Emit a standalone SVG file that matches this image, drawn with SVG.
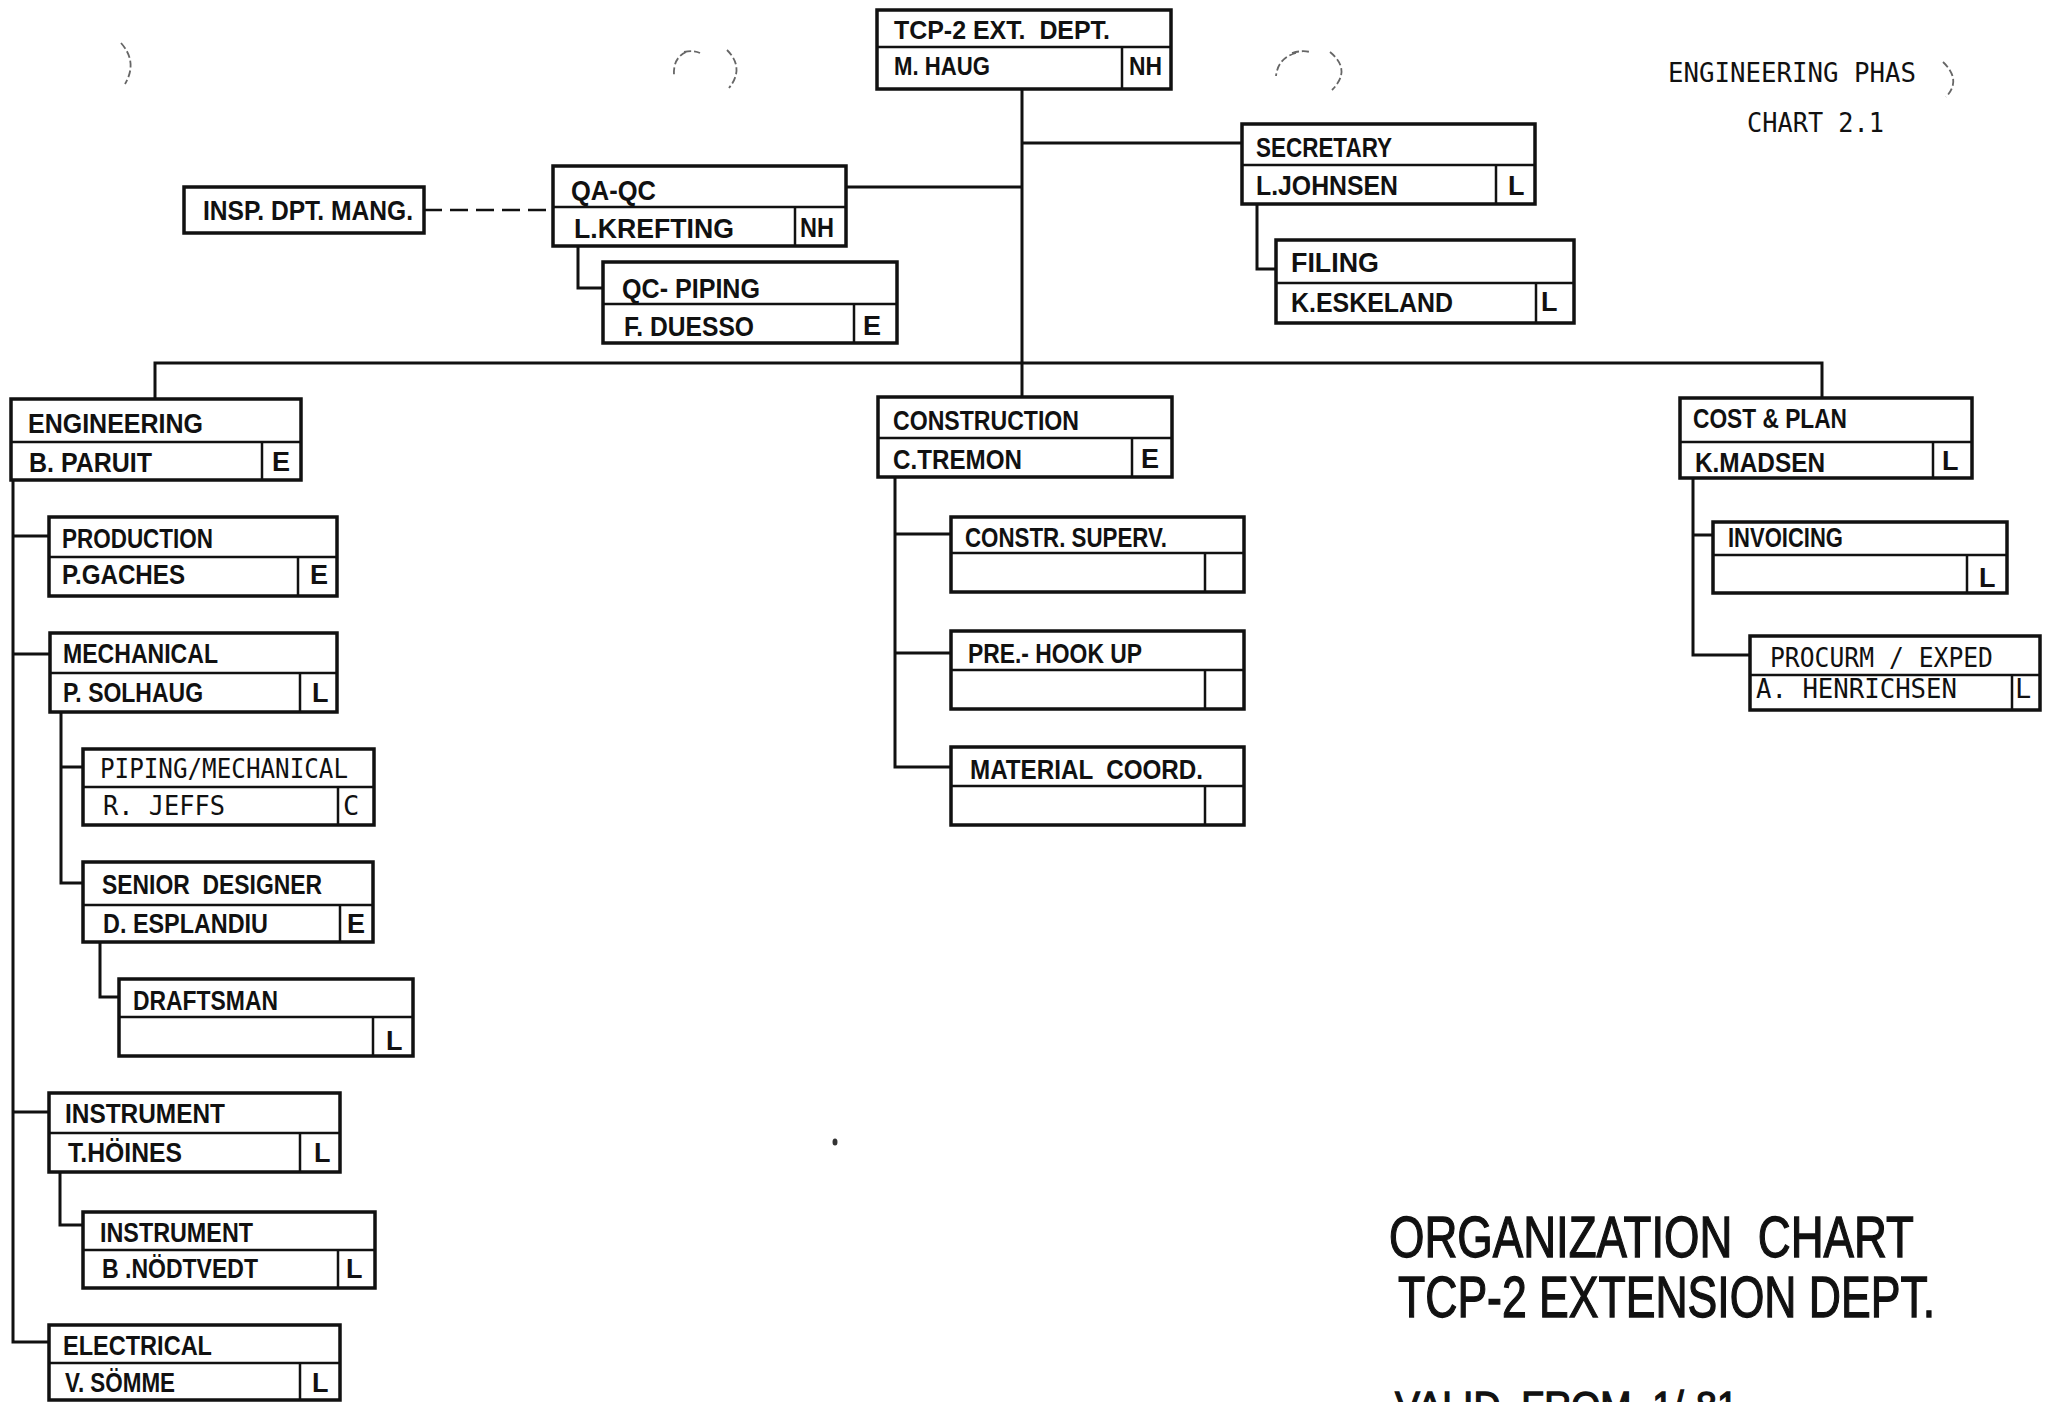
<svg xmlns="http://www.w3.org/2000/svg" width="2052" height="1402" viewBox="0 0 2052 1402">
<style>
.box{fill:#fff;stroke:#111;stroke-width:3.5}
.dv{fill:none;stroke:#111;stroke-width:2.5}
.ln{fill:none;stroke:#111;stroke-width:3}
.dash{fill:none;stroke:#111;stroke-width:2.5;stroke-dasharray:18 8}
.t{font-family:"Liberation Sans",Arial,sans-serif;font-weight:bold;font-size:27px;fill:#111;white-space:pre}
.s{font-size:25px}
.m{font-family:"DejaVu Sans Mono","Liberation Mono",monospace;font-size:27px;fill:#111;white-space:pre}
.h{font-family:"Liberation Sans",Arial,sans-serif;font-size:58px;fill:#111;stroke:#111;stroke-width:1.3;white-space:pre}
.hole{fill:none;stroke:#666;stroke-width:1.8;stroke-dasharray:7 3}
</style>
<rect x="0" y="0" width="2052" height="1402" fill="#fff"/>

<g id="holes">
<path class="hole" d="M121,43 Q138,62 125,84"/>
<path class="hole" d="M686,52 Q673,58 674,75 M684,52 Q694,50 700,53"/>
<path class="hole" d="M727,50 Q745,68 729,88"/>
<path class="hole" d="M1296,53 Q1278,58 1276,76 M1292,53 Q1302,50 1310,52"/>
<path class="hole" d="M1330,52 Q1352,70 1332,90"/>
<path class="hole" d="M1943,62 Q1962,80 1946,97"/>
<ellipse cx="835" cy="1142" rx="2.5" ry="3.5" fill="#333"/>
</g>

<g id="connectors">
<path class="ln" d="M1022,89 V363"/>
<path class="ln" d="M1022,143 H1242"/>
<path class="ln" d="M846,187 H1022"/>
<path class="ln" d="M1257,204 V269 H1276"/>
<path class="ln" d="M578,246 V288 H603"/>
<path class="dash" d="M424,210 H553"/>
<path class="ln" d="M155,399 V363 H1822 V398"/>
<path class="ln" d="M1022,363 V397"/>
<path class="ln" d="M13,480 V1342 H49"/>
<path class="ln" d="M13,536 H49 M13,654 H50 M13,1112 H49"/>
<path class="ln" d="M61,712 V883 H83 M61,767 H83"/>
<path class="ln" d="M100,942 V997 H119"/>
<path class="ln" d="M60,1172 V1225 H83"/>
<path class="ln" d="M895,477 V767 H951 M895,534 H951 M895,653 H951"/>
<path class="ln" d="M1693,478 V655 H1750 M1693,535 H1713"/>
</g>

<g id="n-tcp">
<rect class="box" x="877" y="10" width="294" height="79"/>
<path class="dv" d="M877,47 H1171 M1122,47 V89"/>
<text class="t s" x="894" y="39" textLength="216" lengthAdjust="spacingAndGlyphs">TCP-2 EXT.  DEPT.</text>
<text class="t s" x="894" y="75" textLength="96" lengthAdjust="spacingAndGlyphs">M. HAUG</text>
<text class="t s" x="1129" y="75" textLength="33" lengthAdjust="spacingAndGlyphs">NH</text>
</g>

<g id="n-secretary">
<rect class="box" x="1242" y="124" width="293" height="80"/>
<path class="dv" d="M1242,165 H1535 M1496,165 V204"/>
<text class="t" x="1256" y="157" textLength="136" lengthAdjust="spacingAndGlyphs">SECRETARY</text>
<text class="t" x="1256" y="195" textLength="142" lengthAdjust="spacingAndGlyphs">L.JOHNSEN</text>
<text class="t" x="1508" y="195">L</text>
</g>

<g id="n-filing">
<rect class="box" x="1276" y="240" width="298" height="83"/>
<path class="dv" d="M1276,283 H1574 M1536,283 V323"/>
<text class="t" x="1291" y="272" textLength="88" lengthAdjust="spacingAndGlyphs">FILING</text>
<text class="t" x="1291" y="312" textLength="162" lengthAdjust="spacingAndGlyphs">K.ESKELAND</text>
<text class="t" x="1541" y="311">L</text>
</g>

<g id="n-qaqc">
<rect class="box" x="553" y="166" width="293" height="80"/>
<path class="dv" d="M553,207 H846 M795,207 V246"/>
<text class="t" x="571" y="200" textLength="85" lengthAdjust="spacingAndGlyphs">QA-QC</text>
<text class="t" x="574" y="238" textLength="160" lengthAdjust="spacingAndGlyphs">L.KREFTING</text>
<text class="t" x="800" y="237" textLength="34" lengthAdjust="spacingAndGlyphs">NH</text>
</g>

<g id="n-qcpiping">
<rect class="box" x="603" y="262" width="294" height="81"/>
<path class="dv" d="M603,304 H897 M854,304 V343"/>
<text class="t" x="622" y="298" textLength="138" lengthAdjust="spacingAndGlyphs">QC- PIPING</text>
<text class="t" x="624" y="336" textLength="130" lengthAdjust="spacingAndGlyphs">F. DUESSO</text>
<text class="t" x="863" y="335">E</text>
</g>

<g id="n-insp">
<rect class="box" x="184" y="187" width="240" height="46"/>
<text class="t" x="203" y="220" textLength="210" lengthAdjust="spacingAndGlyphs">INSP. DPT. MANG.</text>
</g>

<g id="n-engineering">
<rect class="box" x="11" y="399" width="290" height="81"/>
<path class="dv" d="M11,442 H301 M262,442 V480"/>
<text class="t" x="28" y="433" textLength="175" lengthAdjust="spacingAndGlyphs">ENGINEERING</text>
<text class="t" x="29" y="472" textLength="123" lengthAdjust="spacingAndGlyphs">B. PARUIT</text>
<text class="t" x="272" y="471">E</text>
</g>

<g id="n-production">
<rect class="box" x="49" y="517" width="288" height="79"/>
<path class="dv" d="M49,557 H337 M298,557 V596"/>
<text class="t" x="62" y="548" textLength="151" lengthAdjust="spacingAndGlyphs">PRODUCTION</text>
<text class="t" x="62" y="584" textLength="123" lengthAdjust="spacingAndGlyphs">P.GACHES</text>
<text class="t" x="310" y="584">E</text>
</g>

<g id="n-mechanical">
<rect class="box" x="50" y="633" width="287" height="79"/>
<path class="dv" d="M50,673 H337 M300,673 V712"/>
<text class="t" x="63" y="663" textLength="155" lengthAdjust="spacingAndGlyphs">MECHANICAL</text>
<text class="t" x="63" y="702" textLength="140" lengthAdjust="spacingAndGlyphs">P. SOLHAUG</text>
<text class="t" x="312" y="702">L</text>
</g>

<g id="n-piping">
<rect class="box" x="83" y="749" width="291" height="76"/>
<path class="dv" d="M83,787 H374 M338,787 V825"/>
<text class="m" x="100" y="778" textLength="248" lengthAdjust="spacingAndGlyphs">PIPING/MECHANICAL</text>
<text class="m" x="103" y="815" textLength="122" lengthAdjust="spacingAndGlyphs">R. JEFFS</text>
<text class="m" x="343" y="815">C</text>
</g>

<g id="n-senior">
<rect class="box" x="83" y="862" width="290" height="80"/>
<path class="dv" d="M83,905 H373 M340,905 V942"/>
<text class="t" x="102" y="894" textLength="220" lengthAdjust="spacingAndGlyphs">SENIOR  DESIGNER</text>
<text class="t" x="103" y="933" textLength="165" lengthAdjust="spacingAndGlyphs">D. ESPLANDIU</text>
<text class="t" x="347" y="933">E</text>
</g>

<g id="n-draftsman">
<rect class="box" x="119" y="979" width="294" height="77"/>
<path class="dv" d="M119,1017 H413 M373,1017 V1056"/>
<text class="t" x="133" y="1010" textLength="145" lengthAdjust="spacingAndGlyphs">DRAFTSMAN</text>
<text class="t" x="386" y="1050">L</text>
</g>

<g id="n-instrument1">
<rect class="box" x="49" y="1093" width="291" height="79"/>
<path class="dv" d="M49,1133 H340 M300,1133 V1172"/>
<text class="t" x="65" y="1123" textLength="160" lengthAdjust="spacingAndGlyphs">INSTRUMENT</text>
<text class="t" x="68" y="1162" textLength="114" lengthAdjust="spacingAndGlyphs">T.HÖINES</text>
<text class="t" x="314" y="1162">L</text>
</g>

<g id="n-instrument2">
<rect class="box" x="83" y="1212" width="292" height="76"/>
<path class="dv" d="M83,1250 H375 M338,1250 V1288"/>
<text class="t" x="100" y="1242" textLength="153" lengthAdjust="spacingAndGlyphs">INSTRUMENT</text>
<text class="t" x="102" y="1278" textLength="156" lengthAdjust="spacingAndGlyphs">B .NÖDTVEDT</text>
<text class="t" x="346" y="1278">L</text>
</g>

<g id="n-electrical">
<rect class="box" x="49" y="1325" width="291" height="75"/>
<path class="dv" d="M49,1363 H340 M300,1363 V1400"/>
<text class="t" x="63" y="1355" textLength="149" lengthAdjust="spacingAndGlyphs">ELECTRICAL</text>
<text class="t" x="65" y="1392" textLength="110" lengthAdjust="spacingAndGlyphs">V. SÖMME</text>
<text class="t" x="312" y="1392">L</text>
</g>

<g id="n-construction">
<rect class="box" x="878" y="397" width="294" height="80"/>
<path class="dv" d="M878,438 H1172 M1132,438 V477"/>
<text class="t" x="893" y="430" textLength="186" lengthAdjust="spacingAndGlyphs">CONSTRUCTION</text>
<text class="t" x="893" y="469" textLength="129" lengthAdjust="spacingAndGlyphs">C.TREMON</text>
<text class="t" x="1141" y="468">E</text>
</g>

<g id="n-constrsuperv">
<rect class="box" x="951" y="517" width="293" height="75"/>
<path class="dv" d="M951,553 H1244 M1205,553 V592"/>
<text class="t" x="965" y="547" textLength="202" lengthAdjust="spacingAndGlyphs">CONSTR. SUPERV.</text>
</g>

<g id="n-prehookup">
<rect class="box" x="951" y="631" width="293" height="78"/>
<path class="dv" d="M951,670 H1244 M1205,670 V709"/>
<text class="t" x="968" y="663" textLength="174" lengthAdjust="spacingAndGlyphs">PRE.- HOOK UP</text>
</g>

<g id="n-material">
<rect class="box" x="951" y="747" width="293" height="78"/>
<path class="dv" d="M951,786 H1244 M1205,786 V825"/>
<text class="t" x="970" y="779" textLength="233" lengthAdjust="spacingAndGlyphs">MATERIAL  COORD.</text>
</g>

<g id="n-costplan">
<rect class="box" x="1680" y="398" width="292" height="80"/>
<path class="dv" d="M1680,442 H1972 M1933,442 V478"/>
<text class="t" x="1693" y="428" textLength="154" lengthAdjust="spacingAndGlyphs">COST &amp; PLAN</text>
<text class="t" x="1695" y="472" textLength="130" lengthAdjust="spacingAndGlyphs">K.MADSEN</text>
<text class="t" x="1942" y="470">L</text>
</g>

<g id="n-invoicing">
<rect class="box" x="1713" y="522" width="294" height="71"/>
<path class="dv" d="M1713,555 H2007 M1967,555 V593"/>
<text class="t" x="1728" y="547" textLength="115" lengthAdjust="spacingAndGlyphs">INVOICING</text>
<text class="t" x="1979" y="587">L</text>
</g>

<g id="n-procurm">
<rect class="box" x="1750" y="636" width="290" height="74"/>
<path class="dv" d="M1750,675 H2040 M2012,675 V710"/>
<text class="m" x="1770" y="667" textLength="223" lengthAdjust="spacingAndGlyphs">PROCURM / EXPED</text>
<text class="m" x="1756" y="698" textLength="201" lengthAdjust="spacingAndGlyphs">A. HENRICHSEN</text>
<text class="m" x="2015" y="698">L</text>
</g>

<g id="header">
<text class="m" x="1668" y="82" textLength="248" lengthAdjust="spacingAndGlyphs">ENGINEERING PHAS</text>
<text class="m" x="1747" y="132" textLength="137" lengthAdjust="spacingAndGlyphs">CHART 2.1</text>
</g>

<g id="title">
<text class="h" transform="translate(1389,1257) scale(0.72,1)" x="0" y="0" textLength="729" lengthAdjust="spacingAndGlyphs">ORGANIZATION  CHART</text>
<text class="h" transform="translate(1398,1317) scale(0.72,1)" x="0" y="0" textLength="746" lengthAdjust="spacingAndGlyphs">TCP-2 EXTENSION DEPT.</text>
<text class="h" transform="translate(1395,1420) scale(0.75,1)" x="0" y="0" style="font-size:40px" textLength="457" lengthAdjust="spacingAndGlyphs">VALID  FROM  1/-81</text>
</g>
</svg>
